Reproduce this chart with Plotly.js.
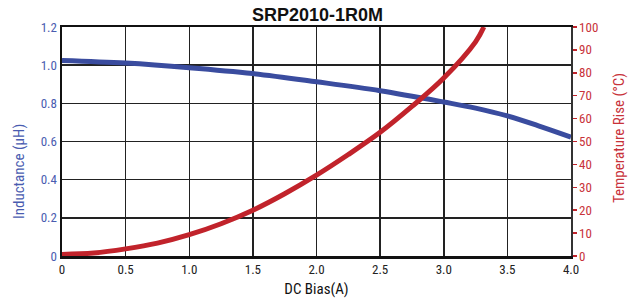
<!DOCTYPE html>
<html><head><meta charset="utf-8">
<script src="https://cdn.plot.ly/plotly-3.0.1.min.js"></script>
<style>html,body{margin:0;padding:0;background:#fff}</style>
</head><body><div id="c" style="width:639px;height:307px"></div>
<script>
const indX = [0, 0.5, 1.0, 1.5, 2.0, 2.5, 3.0, 3.25, 3.5, 3.75, 4.0];
const indY = [1.025, 1.011, 0.987, 0.956, 0.913, 0.866, 0.807, 0.775, 0.734, 0.681, 0.623];
const tempX = [0, 0.25, 0.5, 0.75, 1.0, 1.25, 1.5, 1.75, 2.0, 2.25, 2.5, 2.75, 3.0, 3.25, 3.315];
const tempY = [0.7, 1.3, 3.1, 5.6, 9.3, 14.1, 20.0, 27.2, 35.3, 44.3, 54.0, 65.3, 77.7, 93.5, 100];
const xTicks = [0, 0.5, 1.0, 1.5, 2.0, 2.5, 3.0, 3.5, 4.0];
const xLabels = ['0', '0.5', '1.0', '1.5', '2.0', '2.5', '3.0', '3.5', '4.0'];
const yTicks = [0, 0.2, 0.4, 0.6, 0.8, 1.0, 1.2];
const yLabels = ['0', '0.2', '0.4', '0.6', '0.8', '1.0', '1.2'];
const y2Ticks = [0,10,20,30,40,50,60,70,80,90,100];

const F = '"Liberation Sans Narrow", "Roboto Condensed", "Liberation Sans", Arial, sans-serif';
const FB = '"Liberation Sans", Arial, sans-serif';
const BLUE = '#3a4c9f', RED = '#c1232b';
const BLUE_T = '#4a5cb0', RED_T = '#c8323a';

const data = [
  {x: tempX, y: tempY, yaxis: 'y2', mode: 'lines', line: {color: RED, width: 5, shape: 'spline'}, hoverinfo: 'skip'},
  {x: indX, y: indY, mode: 'lines', line: {color: BLUE, width: 5, shape: 'spline'}, hoverinfo: 'skip'}
];
const layout = {
  width: 639, height: 307,
  margin: {l: 62, r: 68, t: 27, b: 51},
  paper_bgcolor: '#fff', plot_bgcolor: '#fff',
  showlegend: false,
  title: {text: '<b>SRP2010-1R0M</b>', x: 0.497, xanchor: 'center', y: 0.953, yanchor: 'middle',
          font: {family: FB, size: 18, color: '#111'}},
  xaxis: {range: [0, 4], tickvals: xTicks, ticktext: xLabels, showgrid: true, gridcolor: '#222', gridwidth: 1.5,
          showline: true, linecolor: '#111', linewidth: 2.5, mirror: true, zeroline: false, ticks: '',
          tickfont: {family: F, size: 13, color: '#222'},
          title: {text: 'DC Bias(A)', font: {family: F, size: 15, color: '#111'}, standoff: 8}},
  yaxis: {range: [0, 1.2], tickvals: yTicks, ticktext: yLabels, showgrid: true, gridcolor: '#222', gridwidth: 1.5,
          showline: true, linecolor: '#111', linewidth: 2.5, zeroline: false, ticks: '',
          tickfont: {family: F, size: 13, color: BLUE_T}},
  yaxis2: {range: [0, 100], tickvals: y2Ticks, overlaying: 'y', side: 'right', showgrid: false, zeroline: false,
           showline: true, linecolor: '#333', linewidth: 1.5,
           ticks: 'outside', ticklen: 4, tickcolor: RED, tickwidth: 1.5,
           tickfont: {family: F, size: 13, color: RED_T}},
  annotations: [
    {text: 'Inductance (µH)', xref: 'paper', yref: 'paper', x: -0.0845, y: 0.371, xanchor: 'center', yanchor: 'middle',
     textangle: -90, showarrow: false, font: {family: F, size: 15, color: BLUE_T}},
    {text: 'Temperature Rise (°C)', xref: 'paper', yref: 'paper', x: 1.0943, y: 0.515, xanchor: 'center', yanchor: 'middle',
     textangle: -90, showarrow: false, font: {family: F, size: 15, color: RED_T}}
  ]
};
Plotly.newPlot('c', data, layout, {staticPlot: true});
</script></body></html>
